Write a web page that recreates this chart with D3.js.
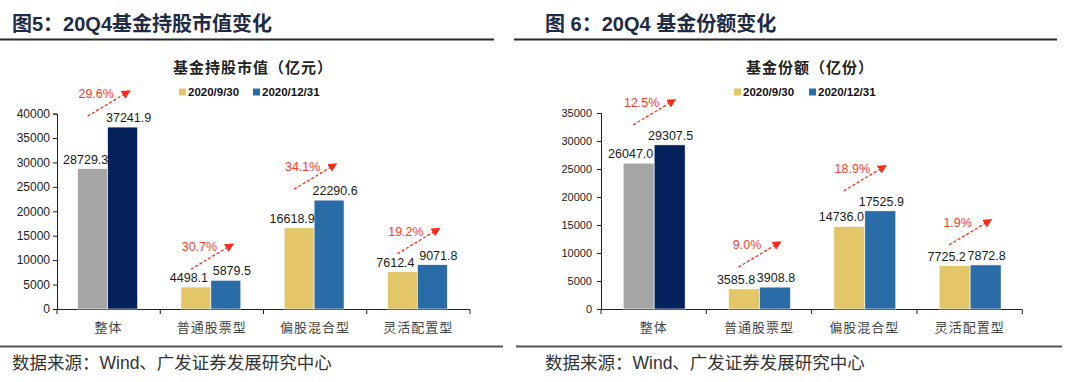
<!DOCTYPE html>
<html><head><meta charset="utf-8">
<script src="https://cdn.jsdelivr.net/npm/d3@7"></script>
<style>
html,body{margin:0;padding:0;background:#fff;}
svg{display:block;}
text{font-family:"Liberation Sans","Noto Sans CJK SC",Arial,sans-serif;}
</style></head>
<body>
<svg id="c" width="1080" height="382"></svg>
<script>
// ---- data ----
const categories = ["整体", "普通股票型", "偏股混合型", "灵活配置型"];
const seriesNames = ["2020/9/30", "2020/12/31"];
const marketValueQ3 = [28729.3, 4498.1, 16618.9, 7612.4];
const marketValueQ4 = [37241.9, 5879.5, 22290.6, 9071.8];
const marketValueGrowth = ["29.6%", "30.7%", "34.1%", "19.2%"];
const marketValueTicks = [0, 5000, 10000, 15000, 20000, 25000, 30000, 35000, 40000];
const sharesQ3 = [26047.0, 3585.8, 14736.0, 7725.2];
const sharesQ4 = [29307.5, 3908.8, 17525.9, 7872.8];
const sharesGrowth = ["12.5%", "9.0%", "18.9%", "1.9%"];
const sharesTicks = [0, 5000, 10000, 15000, 20000, 25000, 30000, 35000];

const svg = d3.select("#c");
svg.append("rect").attr("width",1080).attr("height",382).attr("fill","#fff");

const defs = svg.append("defs");
defs.append("marker").attr("id","ah").attr("viewBox","0 0 10 10")
  .attr("refX",6).attr("refY",5).attr("markerWidth",9).attr("markerHeight",9)
  .attr("markerUnits","userSpaceOnUse").attr("orient","auto")
  .append("path").attr("d","M0,0 L10,5 L0,10 Z").attr("fill","#ff2a1a");

const colorsFirst = ["#a6a6a6", "#04215b"];
const colorsOther = ["#e2c667", "#2a6ca8"];

function panel(cfg) {
  const g = svg.append("g");
  // header
  g.append("text").attr("x", cfg.titleX).attr("y", 31).attr("font-size", 20)
    .attr("font-weight", "bold").attr("fill", "#1d2b46").text(cfg.title);
  g.append("line").attr("x1", cfg.topLine[0]).attr("x2", cfg.topLine[1])
    .attr("y1", 39.5).attr("y2", 39.5).attr("stroke", "#2b2b2b").attr("stroke-width", 2);
  g.append("line").attr("x1", cfg.botLine[0]).attr("x2", cfg.botLine[1])
    .attr("y1", 346.5).attr("y2", 346.5).attr("stroke", "#555", ).attr("stroke-width", 2);
  g.append("text").attr("x", cfg.titleX).attr("y", 369).attr("font-size", 17.5)
    .attr("fill", "#333").text("数据来源：Wind、广发证券发展研究中心");

  // chart title
  g.append("text").attr("x", cfg.chartTitleX).attr("y", 73).attr("text-anchor", "middle")
    .attr("font-size", 15).attr("font-weight", "bold").attr("letter-spacing", 1)
    .attr("fill", "#222").text(cfg.chartTitle);

  // legend
  const lg = g.append("g").attr("transform", `translate(${cfg.legendX},92)`);
  seriesNames.forEach((s, i) => {
    const ox = i === 0 ? 0 : cfg.legendGap;
    lg.append("rect").attr("x", ox).attr("y", -3.5).attr("width", 7).attr("height", 7).attr("fill", colorsOther[i]);
    lg.append("text").attr("x", ox + 9).attr("y", 4).attr("font-size", 11.5).attr("font-weight", "bold")
      .attr("fill", "#111").text(s);
  });

  const y = d3.scaleLinear().domain([0, cfg.ticks[cfg.ticks.length - 1]]).range([309, cfg.yTop]);
  const x0 = d3.scaleBand().domain(categories).range(cfg.xRange).padding(0);
  const bw = x0.bandwidth() * cfg.barFrac;
  const x1 = d3.scaleBand().domain(seriesNames).range([0, bw * 2]).padding(0);

  // y axis
  const ya = d3.axisLeft(y).tickValues(cfg.ticks).tickSize(4).tickPadding(cfg.tickPad).tickFormat(d3.format("d"));
  const yg = g.append("g").attr("transform", `translate(${cfg.xRange[0]},0)`).call(ya);
  yg.select(".domain").attr("stroke", "#222");
  yg.selectAll(".tick line").attr("stroke", "#222");
  yg.selectAll(".tick text").attr("font-size", cfg.tickFont).attr("fill", "#222")
    .attr("font-family", "Liberation Sans, Arial, sans-serif");

  // x axis
  const xa = g.append("g");
  xa.append("line").attr("x1", cfg.xRange[0]).attr("x2", cfg.xRange[1]).attr("y1", 309.5).attr("y2", 309.5)
    .attr("stroke", "#222");
  const bounds = categories.map(c => x0(c)).concat([cfg.xRange[1]]);
  xa.selectAll("line.tk").data(bounds).enter().append("line").attr("class", "tk")
    .attr("x1", d => d).attr("x2", d => d).attr("y1", 309.5).attr("y2", 314).attr("stroke", "#222");
  xa.selectAll("text.cat").data(categories).enter().append("text").attr("class", "cat")
    .attr("x", d => x0(d) + x0.bandwidth() / 2).attr("y", 332).attr("text-anchor", "middle")
    .attr("font-size", 13).attr("letter-spacing", 1).attr("fill", "#444")
    .attr("font-family", "Noto Sans CJK SC, sans-serif").text(d => d);

  // bars
  const rows = categories.map((c, i) => ({ c, i, vals: [cfg.s1[i], cfg.s2[i]], growth: cfg.growth[i] }));
  const groups = g.selectAll("g.grp").data(rows).enter().append("g").attr("class", "grp")
    .attr("transform", d => `translate(${x0(d.c) + x0.bandwidth() / 2 - bw + cfg.pairShift},0)`);
  groups.selectAll("rect").data(d => d.vals.map((v, k) => ({ v, k, i: d.i }))).enter().append("rect")
    .attr("x", d => x1(seriesNames[d.k])).attr("width", x1.bandwidth())
    .attr("y", d => y(d.v)).attr("height", d => y(0) - y(d.v))
    .attr("fill", d => (d.i === 0 ? colorsFirst : colorsOther)[d.k])
    .attr("stroke", "#fff").attr("stroke-width", 0.6);
  groups.selectAll("text.val").data(d => d.vals.map((v, k) => ({ v, k }))).enter().append("text")
    .attr("class", "val")
    .attr("x", d => x1(seriesNames[d.k]) + x1.bandwidth() / 2 + cfg.labelDx[d.k])
    .attr("y", d => y(d.v) - 5).attr("text-anchor", "middle")
    .attr("font-size", cfg.valFont).attr("fill", "#1a1a1a").text(d => d.v.toFixed(1));

  // growth arrows
  groups.each(function (d) {
    const gg = d3.select(this);
    const top = y(Math.max(d.vals[0], d.vals[1]));
    const sx = 10, sy = top - cfg.arrowOff;
    const ex = sx + 40, ey = sy - 24;
    gg.append("line").attr("x1", sx).attr("y1", sy).attr("x2", ex).attr("y2", ey)
      .attr("stroke", "#ff2a1a").attr("stroke-width", 1.3).attr("stroke-dasharray", "3,2")
      .attr("marker-end", "url(#ah)");
    gg.append("text").attr("x", sx + 8.5).attr("y", ey + 6).attr("text-anchor", "middle")
      .attr("font-size", 12.5).attr("fill", "#ff3a2a").text(d.growth);
  });
}

panel({
  title: "图5：20Q4基金持股市值变化", titleX: 12,
  topLine: [0, 494], botLine: [0, 503],
  chartTitle: "基金持股市值（亿元）", chartTitleX: 253,
  legendX: 179, legendGap: 74,
  ticks: marketValueTicks, yTop: 113.6, xRange: [57, 470], barFrac: 0.29, pairShift: -1,
  tickPad: 3, tickFont: 12, valFont: 12.5, labelDx: [-7, 6], arrowOff: 11,
  s1: marketValueQ3, s2: marketValueQ4, growth: marketValueGrowth
});
panel({
  title: "图 6：20Q4 基金份额变化", titleX: 545,
  topLine: [514, 1057], botLine: [516, 1062],
  chartTitle: "基金份额（亿份）", chartTitleX: 810,
  legendX: 734, legendGap: 75,
  ticks: sharesTicks, yTop: 113, xRange: [601, 1022.3], barFrac: 0.294, pairShift: 0.5,
  tickPad: 5, tickFont: 11, valFont: 12.5, labelDx: [-8, 1], arrowOff: 20,
  s1: sharesQ3, s2: sharesQ4, growth: sharesGrowth
});
</script>
</body></html>
